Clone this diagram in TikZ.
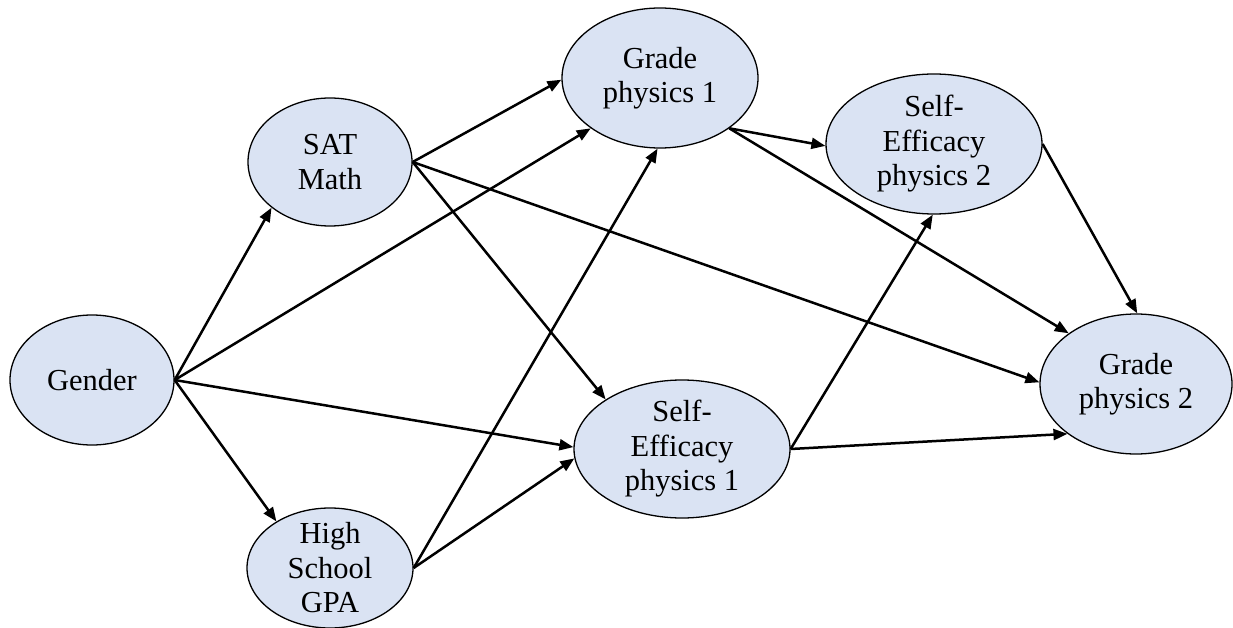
\documentclass[tikz,border=0pt]{standalone}
\usepackage{fontspec}
\setmainfont{Liberation Serif}
\usetikzlibrary{shapes.geometric,arrows.meta}
\definecolor{nodefill}{HTML}{DAE3F3}
\tikzset{
  var/.style={ellipse, draw=black, line width=1.3pt, fill=nodefill, inner sep=0pt},
  edge/.style={line width=2.5pt, -{Triangle[length=14pt,width=11pt]}},
  txt/.style={align=center, font=\rmfamily\fontsize{30.5}{34.5}\selectfont}
}
\begin{document}
\begin{tikzpicture}[x=1pt,y=-1pt]
\useasboundingbox (0,0) rectangle (1233,628);
% variables
\node[var, minimum width=164pt, minimum height=130pt] (gender) at (92,380) {};
\node[var, minimum width=164pt, minimum height=128pt] (sat) at (330,162) {};
\node[var, minimum width=166pt, minimum height=120pt] (gpa) at (330,568) {};
\node[var, minimum width=196pt, minimum height=140pt] (gp1) at (660,78) {};
\node[var, minimum width=216pt, minimum height=138pt] (se1) at (682,449) {};
\node[var, minimum width=216pt, minimum height=140pt] (se2) at (934,144) {};
\node[var, minimum width=192pt, minimum height=140pt] (gp2) at (1136,384) {};
% labels
\node[txt] (genderT) at (gender) {Gender};
\node[txt] (satT) at (sat) {SAT\\Math};
\node[txt] (gpaT) at (gpa) {High\\School\\GPA};
\node[txt] (gp1T) at (gp1) {Grade\\physics 1};
\node[txt] (se1T) at (se1) {Self-\\Efficacy\\physics 1};
\node[txt] (se2T) at (se2) {Self-\\Efficacy\\physics 2};
\node[txt] (gp2T) at (gp2) {Grade\\physics 2};
% paths
\draw[edge] (gender.east) -- (sat.218);
\draw[edge] (gender.east) -- (gpa.139);
\draw[edge] (gender.east) -- (gp1.216);
\draw[edge] (gender.east) -- (se1.179);
\draw[edge] (sat.east) -- (gp1.181);
\draw[edge] (sat.east) -- (se1.147);
\draw[edge] (sat.east) -- (gp2.179);
\draw[edge] (gpa.east) -- (gp1.268);
\draw[edge] (gpa.east) -- (se1.185);
\draw[edge] (gp1.-36) -- (se2.181);
\draw[edge] (gp1.-36) -- (gp2.143);
\draw[edge] (se1.east) -- (se2.269);
\draw[edge] (se1.east) -- (gp2.216);
\draw[edge] (se2.east) -- (gp2.89);
\end{tikzpicture}
\end{document}
